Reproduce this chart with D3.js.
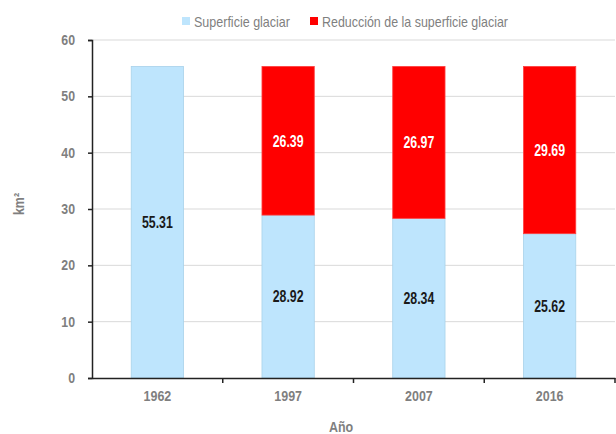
<!DOCTYPE html>
<html><head><meta charset="utf-8">
<script src="https://cdn.jsdelivr.net/npm/d3@7"></script>
<style>body{margin:0;background:#fff}svg{display:block;font-family:"Liberation Sans",Arial,sans-serif}</style>
</head><body><svg id="c" width="616" height="434"></svg>
<script>
const years = ["1962","1997","2007","2016"];
const surface = [55.31, 28.92, 28.34, 25.62];
const reduction = [0, 26.39, 26.97, 29.69];
const yTicks = [0,10,20,30,40,50,60];
const seriesNames = ["Superficie glaciar","Reducción de la superficie glaciar"];
const colors = ["#BEE5FD","#FF0000"];
const FONT = "Liberation Sans, Arial, sans-serif";

function condense(sel, ratio){
  sel.each(function(){
    const w = this.getComputedTextLength();
    d3.select(this).attr("textLength", w*ratio).attr("lengthAdjust","spacingAndGlyphs");
  });
}

const svg = d3.select("#c");
const m = {l:92, r:615, t:40, b:378};
const x = d3.scaleBand().domain(years).range([m.l, m.r]).paddingInner(0).paddingOuter(0);
const y = d3.scaleLinear().domain([0,60]).range([m.b, m.t]);
const bw = x.bandwidth()*0.4;

svg.append("g").selectAll("line").data(yTicks.filter(d=>d>0)).join("line")
  .attr("x1", m.l).attr("x2", m.r).attr("y1", d=>y(d)).attr("y2", d=>y(d))
  .attr("stroke","#D9D9D9").attr("stroke-width",1);

const data = years.map((yr,i)=>({yr, s:surface[i], r:reduction[i]}));
const g = svg.append("g");
g.selectAll("rect.s").data(data).join("rect").attr("class","s")
  .attr("x", d=>x(d.yr)+x.bandwidth()/2-bw/2).attr("width", bw)
  .attr("y", d=>y(d.s)).attr("height", d=>y(0)-y(d.s))
  .attr("fill", colors[0]).attr("stroke","#A9D2EA").attr("stroke-width",0.8);
g.selectAll("rect.r").data(data.filter(d=>d.r>0)).join("rect").attr("class","r")
  .attr("x", d=>x(d.yr)+x.bandwidth()/2-bw/2).attr("width", bw)
  .attr("y", d=>y(d.s+d.r)).attr("height", d=>y(d.s)-y(d.s+d.r))
  .attr("fill", colors[1]).attr("stroke","#FF4040").attr("stroke-width",0.8);

const ls = g.selectAll("text.s").data(data).join("text").attr("class","s")
  .attr("x", d=>x(d.yr)+x.bandwidth()/2).attr("y", d=>(y(0)+y(d.s))/2)
  .attr("dy","0.36em").attr("text-anchor","middle")
  .attr("font-size",16).attr("font-weight","bold").attr("fill","#1a1a1a")
  .text(d=>d.s.toFixed(2));
condense(ls, 0.77);
const lr = g.selectAll("text.r").data(data.filter(d=>d.r>0)).join("text").attr("class","r")
  .attr("x", d=>x(d.yr)+x.bandwidth()/2).attr("y", d=>(y(d.s)+y(d.s+d.r))/2)
  .attr("dy","0.36em").attr("text-anchor","middle")
  .attr("font-size",16).attr("font-weight","bold").attr("fill","#fff")
  .text(d=>d.r.toFixed(2));
condense(lr, 0.77);

const ya = svg.append("g").attr("transform",`translate(${m.l},0)`)
  .call(d3.axisLeft(y).tickValues(yTicks).tickSize(4).tickPadding(13));
ya.select(".domain").attr("stroke","#222").attr("stroke-width",1.5);
ya.selectAll(".tick line").attr("stroke","#222").attr("stroke-width",1.5);
ya.selectAll("text").attr("font-size",14).attr("font-weight","bold").attr("fill","#7F7F7F")
  .attr("font-family",FONT);
condense(ya.selectAll("text"), 0.88);

const xa = svg.append("g").attr("transform",`translate(0,${m.b})`)
  .call(d3.axisBottom(x).tickSize(0).tickPadding(13));
xa.select(".domain").attr("stroke","#222").attr("stroke-width",1.5);
xa.selectAll("text").attr("font-size",14.5).attr("font-weight","bold").attr("fill","#7F7F7F")
  .attr("font-family",FONT);
condense(xa.selectAll("text"), 0.86);
const bounds = years.map(d=>x(d)).concat([m.r]).slice(1);
svg.append("g").selectAll("line").data(bounds).join("line")
  .attr("x1",d=>d).attr("x2",d=>d).attr("y1",m.b).attr("y2",m.b+5)
  .attr("stroke","#222").attr("stroke-width",1.5);

const t1 = svg.append("text").attr("x",341).attr("y",432).attr("text-anchor","middle")
  .attr("font-size",14.5).attr("font-weight","bold").attr("fill","#7F7F7F").text("Año");
condense(t1, 0.86);
const t2 = svg.append("text").attr("transform","translate(24,204) rotate(-90)").attr("text-anchor","middle")
  .attr("font-size",14.5).attr("font-weight","bold").attr("fill","#7F7F7F").text("km²");
condense(t2, 0.86);

const lg = svg.append("g");
const lx = [182, 310];
seriesNames.forEach((n,i)=>{
  lg.append("rect").attr("x",lx[i]).attr("y",17).attr("width",8).attr("height",8).attr("fill",colors[i]);
  lg.append("text").attr("x",lx[i]+12).attr("y",26.5).attr("font-size",15).attr("fill","#7F7F7F")
    .attr("textLength", i===0?96:186).attr("lengthAdjust","spacingAndGlyphs").text(n);
});
</script></body></html>
